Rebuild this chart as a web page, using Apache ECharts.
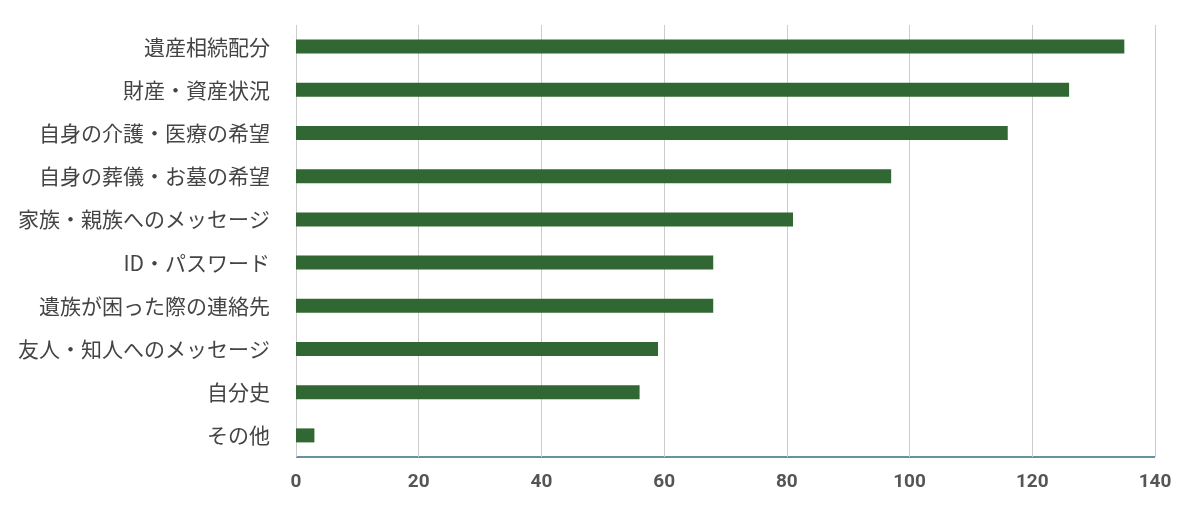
<!DOCTYPE html>
<html><head><meta charset="utf-8">
<script src="https://cdn.jsdelivr.net/npm/echarts@6/dist/echarts.min.js"></script>
<style>html,body{margin:0;padding:0;background:#fff}#c{width:1200px;height:513px}</style>
</head><body><div id="c"></div>
<script>
const categories = ["遺産相続配分","財産・資産状況","自身の介護・医療の希望","自身の葬儀・お墓の希望","家族・親族へのメッセージ","ID・パスワード","遺族が困った際の連絡先","友人・知人へのメッセージ","自分史","その他"];
const values = [135,126,116,97,81,68,68,59,56,3];
const chart = echarts.init(document.getElementById('c'));
chart.setOption({
  animation:false,
  grid:{left:296,right:45,top:25,bottom:56,containLabel:false},
  xAxis:{type:'value',min:0,max:140,interval:20,
    axisLine:{show:false},axisTick:{show:false},
    splitLine:{lineStyle:{color:'#cccccc'}},
    axisLabel:{color:'#555',fontSize:19,fontWeight:'bold',fontFamily:'Roboto',margin:16}},
  yAxis:{type:'category',data:categories,inverse:true,
    axisLine:{show:false},axisTick:{show:false},
    axisLabel:{color:'#444',fontSize:21,fontFamily:'Noto Sans CJK JP',margin:26}},
  series:[{type:'bar',data:values,barWidth:14,itemStyle:{color:'#316733'}}],
  graphic:[{type:'line',shape:{x1:296,y1:457,x2:1155,y2:457},style:{stroke:'#2f6f7f',lineWidth:1.5}}]
});
</script></body></html>
